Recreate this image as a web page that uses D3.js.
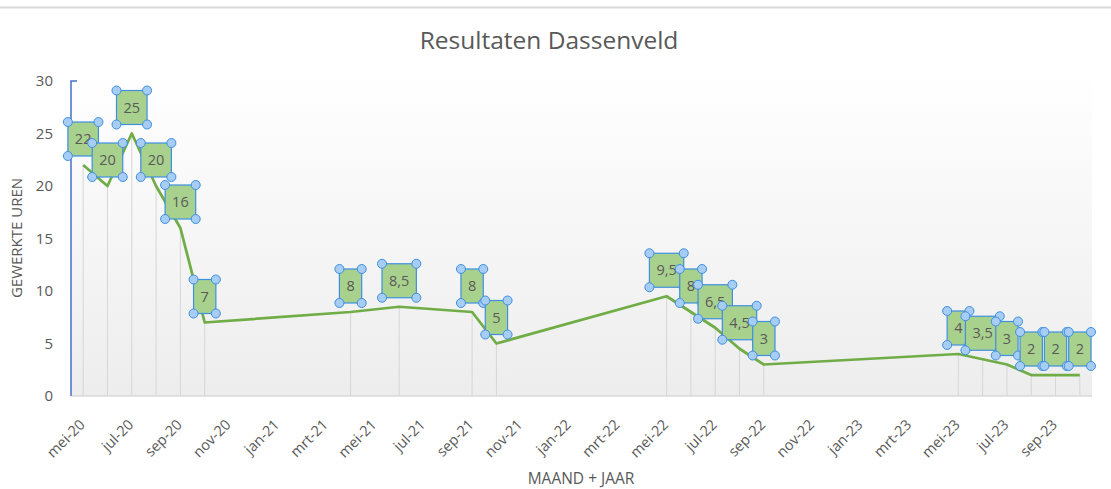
<!DOCTYPE html>
<html>
<head>
<meta charset="utf-8">
<script src="https://cdn.jsdelivr.net/npm/d3@7"></script>
<style>
  body { margin: 0; background: #fff; }
  text { font-family: "Open Sans", sans-serif; fill: #595959; }
</style>
</head>
<body>
<div class="chart-container"></div>
<script>
// months of the series, as yyyy-mm
const months = [
    "2020-05", "2020-06", "2020-07", "2020-08", "2020-09", "2020-10",
    "2021-04", "2021-06", "2021-09", "2021-10",
    "2022-05", "2022-06", "2022-07", "2022-08", "2022-09",
    "2023-05", "2023-06", "2023-07", "2023-08", "2023-09", "2023-10"
];
const hours = [22, 20, 25, 20, 16, 7, 8, 8.5, 8, 5, 9.5, 8, 6.5, 4.5, 3, 4, 3.5, 3, 2, 2, 2];

// x ticks every two months, starting at mei-20
const tickLabels = [
    "mei-20", "jul-20", "sep-20", "nov-20", "jan-21", "mrt-21", "mei-21", "jul-21",
    "sep-21", "nov-21", "jan-22", "mrt-22", "mei-22", "jul-22", "sep-22", "nov-22",
    "jan-23", "mrt-23", "mei-23", "jul-23", "sep-23"
];
const yTicks = [0, 5, 10, 15, 20, 25, 30];

const W = 1111, H = 489;
const plot = { left: 71, right: 1092, top: 81, bottom: 396 };

// month index counted from mei-20 (date axis, one slot per month)
const monthIndex = s => {
    const [y, m] = s.split("-").map(Number);
    return (y - 2020) * 12 + (m - 5);
};
const data = months.map((m, i) => ({ month: m, idx: monthIndex(m), value: hours[i] }));

const svg = d3.select('.chart-container')
    .append('svg')
    .attr('width', W)
    .attr('height', H);

const xScale = d3.scaleLinear()
    .domain([-0.5, 41.5])
    .range([plot.left, plot.right]);

const yScale = d3.scaleLinear()
    .domain([0, 30])
    .range([plot.bottom, plot.top]);

const nl = d3.formatLocale({ decimal: ",", thousands: ".", grouping: [3], currency: ["€", ""] });
const fmt = nl.format("~g");

// chart border line on top
svg.append('line')
    .attr('x1', 0).attr('x2', W)
    .attr('y1', 7.5).attr('y2', 7.5)
    .attr('stroke', '#d9d9d9')
    .attr('stroke-width', 2);

// plot area gradient
const grad = svg.append('defs').append('linearGradient')
    .attr('id', 'plotbg')
    .attr('x1', 0).attr('y1', 0).attr('x2', 0).attr('y2', 1);
grad.append('stop').attr('offset', '0%').attr('stop-color', '#ffffff');
grad.append('stop').attr('offset', '100%').attr('stop-color', '#ededed');

svg.append('rect')
    .attr('x', plot.left)
    .attr('y', plot.top - 10)
    .attr('width', plot.right - plot.left)
    .attr('height', plot.bottom - plot.top + 10)
    .attr('fill', 'url(#plotbg)');

// drop lines
svg.append('g')
    .selectAll('line')
    .data(data)
    .enter()
    .append('line')
    .attr('x1', d => xScale(d.idx))
    .attr('x2', d => xScale(d.idx))
    .attr('y1', d => yScale(d.value))
    .attr('y2', yScale(0))
    .attr('stroke', '#d6d6d6')
    .attr('stroke-width', 1);

// x axis line
svg.append('line')
    .attr('x1', plot.left).attr('x2', plot.right)
    .attr('y1', plot.bottom).attr('y2', plot.bottom)
    .attr('stroke', '#d9d9d9')
    .attr('stroke-width', 1.5);

// y axis
const yAxis = d3.axisLeft(yScale)
    .tickValues(yTicks)
    .tickSize(0)
    .tickPadding(18);

const yG = svg.append('g')
    .attr('transform', `translate(${plot.left}, 0)`)
    .call(yAxis);
yG.select('.domain').remove();
yG.selectAll('text')
    .style('font-family', '"Open Sans", sans-serif')
    .style('font-size', '15px')
    .attr('fill', '#595959');

svg.append('path')
    .attr('d', `M${plot.left + 6},${plot.top} H${plot.left} V${plot.bottom}`)
    .attr('fill', 'none')
    .attr('stroke', '#4472c4')
    .attr('stroke-width', 1.5);

// x tick labels
svg.append('g')
    .selectAll('text')
    .data(tickLabels)
    .enter()
    .append('text')
    .attr('transform', (d, i) => `translate(${xScale(i * 2) - 1}, 422) rotate(-45)`)
    .attr('dy', '0.35em')
    .style('text-anchor', 'end')
    .style('font-size', '14.5px')
    .text(d => d);

// line
const line = d3.line()
    .x(d => xScale(d.idx))
    .y(d => yScale(d.value));

svg.append('path')
    .datum(data)
    .attr('d', line)
    .attr('fill', 'none')
    .attr('stroke', '#70ad47')
    .attr('stroke-width', 2.75)
    .attr('stroke-linejoin', 'round');

// data labels: green box with selection handles
const labels = svg.append('g')
    .selectAll('g')
    .data(data)
    .enter()
    .append('g')
    .attr('transform', d => `translate(${xScale(d.idx)}, ${yScale(d.value) - 9})`);

labels.each(function(d) {
    const g = d3.select(this);
    const t = g.append('text')
        .attr('x', 0)
        .attr('y', -17)
        .attr('dy', '0.35em')
        .style('text-anchor', 'middle')
        .style('font-size', '14.5px')
        .attr('fill', '#555555')
        .text(fmt(d.value));
    const tw = t.node().getComputedTextLength();
    const bw = tw + 14, bh = 34;
    g.insert('rect', 'text')
        .attr('x', -bw / 2)
        .attr('y', -bh)
        .attr('width', bw)
        .attr('height', bh)
        .attr('fill', '#a9d18e')
        .attr('stroke', '#3d8fe0')
        .attr('stroke-width', 1.2);
    const corners = [[-bw / 2, -bh], [bw / 2, -bh], [-bw / 2, 0], [bw / 2, 0]];
    g.selectAll('circle')
        .data(corners)
        .enter()
        .append('circle')
        .attr('cx', c => c[0])
        .attr('cy', c => c[1])
        .attr('r', 4.5)
        .attr('fill', '#a7cdf4')
        .attr('stroke', '#3d8fe0')
        .attr('stroke-width', 1);
});

// titles
svg.append('text')
    .attr('x', 549)
    .attr('y', 49)
    .style('text-anchor', 'middle')
    .style('font-size', '24.5px')
    .attr('fill', '#808080')
    .text('Resultaten Dassenveld');

svg.append('text')
    .attr('transform', `translate(22, 238) rotate(-90)`)
    .style('text-anchor', 'middle')
    .style('font-size', '15px')
    .text('GEWERKTE UREN');

svg.append('text')
    .attr('x', 581)
    .attr('y', 484)
    .style('text-anchor', 'middle')
    .style('font-size', '15.5px')
    .text('MAAND + JAAR');
</script>
</body>
</html>
